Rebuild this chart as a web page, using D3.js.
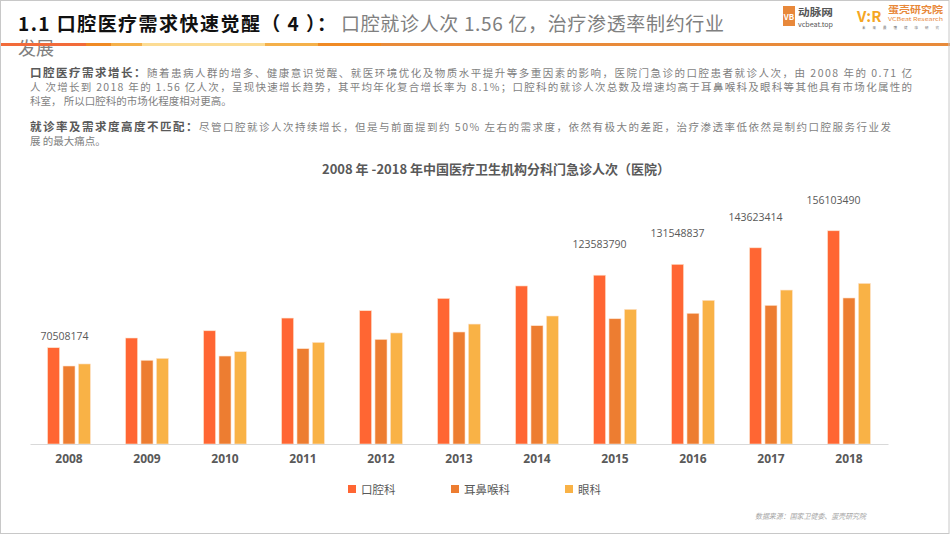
<!DOCTYPE html>
<html>
<head>
<meta charset="utf-8">
<script src="https://cdn.jsdelivr.net/npm/d3@7"></script>
<style>
  body { margin: 0; background: #fff; }
  svg { display: block; font-family: "Noto Sans CJK SC", "Noto Sans", sans-serif; }
</style>
</head>
<body>
<svg id="slide" width="950" height="535"></svg>
<script>
// data (values in visits)
const years = ['2008','2009','2010','2011','2012','2013','2014','2015','2016','2017','2018'];
const seriesNames = ['口腔科', '耳鼻喉科', '眼科'];
const oralVisits = [70508174, 77600000, 82900000, 92200000, 97600000, 106600000, 115700000, 123583790, 131548837, 143623414, 156103490];
const entVisits  = [57100000, 61300000, 64400000, 69800000, 76600000, 82000000, 86600000, 91700000, 95700000, 101500000, 106900000];
const eyeVisits  = [58600000, 62700000, 67600000, 74400000, 81300000, 87800000, 93700000, 98600000, 105200000, 112700000, 117600000];
const labelledYears = ['2008', '2015', '2016', '2017', '2018'];

const colors = ['#ff6633', '#ed7d31', '#f9b246'];

const svg = d3.select('#slide');

// ---- header ----
const stripe = [
    [0, 86, '#f26b3a'], [86, 111, '#f08a24'], [111, 142, '#f5b04a'],
    [142, 265, '#fcdc94'], [265, 318, '#f4b04a'], [318, 381, '#f08a24'], [381, 950, '#e88a3a']
];

svg.append('text')
    .attr('x', 18).attr('y', 55)
    .style('font-size', '18px').style('fill', '#808080')
    .text('发展');

svg.selectAll('.stripe')
    .data(stripe)
    .enter()
    .append('rect')
    .attr('class', 'stripe')
    .attr('x', d => d[0]).attr('y', 43)
    .attr('width', d => d[1] - d[0]).attr('height', 3)
    .style('fill', d => d[2]);

// title in two pieces so the widths follow the reference
svg.append('text')
    .attr('x', 18).attr('y', 31)
    .attr('textLength', 318).attr('lengthAdjust', 'spacing')
    .style('font-size', '19px').style('font-weight', 'bold').style('fill', '#111')
    .text('1.1  口腔医疗需求快速觉醒（ 4 ）：');
svg.append('text')
    .attr('x', 341).attr('y', 31)
    .attr('textLength', 383).attr('lengthAdjust', 'spacing')
    .style('font-size', '19px').style('fill', '#808080')
    .text('口腔就诊人次 1.56 亿，治疗渗透率制约行业');

// logos (rough)
let logo = svg.append('g');
logo.append('rect').attr('x', 783).attr('y', 6).attr('width', 12).attr('height', 20)
    .style('fill', '#e8883a');
logo.append('text').attr('x', 789).attr('y', 20).attr('text-anchor', 'middle')
    .style('font-size', '8px').style('font-weight', 'bold').style('fill', '#fff').text('VB');
logo.append('text').attr('x', 798).attr('y', 16)
    .attr('textLength', 35).attr('lengthAdjust', 'spacingAndGlyphs')
    .style('font-size', '10px').style('font-weight', 'bold').style('fill', '#555').text('动脉网');
logo.append('text').attr('x', 798).attr('y', 26.5)
    .attr('textLength', 35).attr('lengthAdjust', 'spacingAndGlyphs')
    .style('font-size', '7px').style('fill', '#555').text('vcbeat.top');
logo.append('text').attr('x', 857).attr('y', 22)
    .style('font-size', '15px').style('font-weight', 'bold').style('fill', '#f5a623').text('V:R');
logo.append('text').attr('x', 888).attr('y', 13)
    .attr('textLength', 55).attr('lengthAdjust', 'spacingAndGlyphs')
    .style('font-size', '9.5px').style('font-weight', 'bold').style('fill', '#e8883a').text('蛋壳研究院');
logo.append('text').attr('x', 888).attr('y', 20.5)
    .attr('textLength', 55).attr('lengthAdjust', 'spacingAndGlyphs')
    .style('font-size', '5px').style('fill', '#e8883a').text('VCBeat Research');
logo.append('text').attr('x', 862).attr('y', 29)
    .style('font-size', '3.5px').style('fill', '#777').style('letter-spacing', '7px').text('未来最懂健康研究');

// ---- paragraphs ----
const paraLines = [
    {y: 77, head: '口腔医疗需求增长：', body: '随着患病人群的增多、健康意识觉醒、就医环境优化及物质水平提升等多重因素的影响，医院门急诊的口腔患者就诊人次，由 2008 年的 0.71 亿', len: 882},
    {y: 91, head: '', body: '人  次增长到 2018 年的 1.56 亿人次，呈现快速增长趋势，其平均年化复合增长率为 8.1%；口腔科的就诊人次总数及增速均高于耳鼻喉科及眼科等其他具有市场化属性的', len: 882},
    {y: 105, head: '', body: '科室，  所以口腔科的市场化程度相对更高。', len: null},
    {y: 131, head: '就诊率及需求度高度不匹配：', body: '尽管口腔就诊人次持续增长，但是与前面提到约 50% 左右的需求度，依然有极大的差距，治疗渗透率低依然是制约口腔服务行业发', len: 861},
    {y: 145, head: '', body: '展  的最大痛点。', len: null}
];

paraLines.forEach((d) => {
    let t = svg.append('text')
        .attr('x', 30).attr('y', d.y)
        .style('font-size', '10.5px');
    if(d.len){
        t.attr('textLength', d.len).attr('lengthAdjust', 'spacing');
    }
    if(d.head){
        t.append('tspan').style('font-weight', 'bold').style('fill', '#595959').style('font-size', '11.5px').text(d.head);
    }
    t.append('tspan').style('fill', '#7f7f7f').text(d.body);
});

// ---- chart ----
const x0 = d3.scaleBand()
    .domain(years)
    .range([30, 888])
    .paddingInner(0.45)
    .paddingOuter(0.225);

const x1 = d3.scaleBand()
    .domain(seriesNames)
    .range([0, x0.bandwidth()])
    .paddingInner(0.22);

const y = d3.scaleLinear()
    .domain([0, 160000000])
    .range([444, 444 - 160 * 1.366]);

const rows = years.map((yr, i) => ({
    year: yr,
    values: [oralVisits[i], entVisits[i], eyeVisits[i]]
}));

svg.append('text')
    .attr('x', 496).attr('y', 174)
    .attr('text-anchor', 'middle')
    .style('font-size', '13px').style('font-weight', 'bold').style('fill', '#595959')
    .text('2008 年 -2018 年中国医疗卫生机构分科门急诊人次（医院）');

let groups = svg.selectAll('.year-group')
    .data(rows)
    .enter()
    .append('g')
    .attr('class', 'year-group')
    .attr('transform', d => 'translate(' + x0(d.year) + ',0)');

groups.selectAll('rect')
    .data(d => d.values.map((v, i) => ({name: seriesNames[i], value: v, idx: i})))
    .enter()
    .append('rect')
    .attr('x', d => x1(d.name))
    .attr('y', d => y(d.value))
    .attr('width', x1.bandwidth())
    .attr('height', d => y(0) - y(d.value))
    .style('fill', d => colors[d.idx])
    .style('stroke', '#fde4cf')
    .style('stroke-width', 0.6);

// axis
const xAxis = d3.axisBottom(x0).tickSize(0).tickPadding(10);
let axisG = svg.append('g')
    .attr('transform', 'translate(0,' + y(0) + ')')
    .call(xAxis);
axisG.select('.domain').attr('stroke', '#d9d9d9');
axisG.selectAll('text')
    .style('font-family', '"Open Sans", "Noto Sans", sans-serif')
    .style('font-size', '12px').style('font-weight', 'bold').style('fill', '#595959');

// data labels on the oral series
const labelNudge = {'2008': {dx: 11, dy: -8}};
svg.selectAll('.value-label')
    .data(rows.filter(d => labelledYears.includes(d.year)))
    .enter()
    .append('text')
    .attr('class', 'value-label')
    .attr('text-anchor', 'middle')
    .attr('x', d => x0(d.year) + x1(seriesNames[0]) + x1.bandwidth() / 2 + (labelNudge[d.year] ? labelNudge[d.year].dx : 0))
    .attr('y', d => y(d.values[0]) + (labelNudge[d.year] ? labelNudge[d.year].dy : -27))
    .style('font-family', '"Open Sans", "Noto Sans", sans-serif')
    .style('font-size', '10.5px').style('fill', '#595959')
    .text(d => d.values[0]);

// legend
const legendX = [348, 451, 565];
let legend = svg.selectAll('.legend')
    .data(seriesNames)
    .enter()
    .append('g')
    .attr('class', 'legend')
    .attr('transform', (d, i) => 'translate(' + legendX[i] + ',485)');
legend.append('rect')
    .attr('width', 8).attr('height', 8)
    .style('fill', (d, i) => colors[i]);
legend.append('text')
    .attr('x', 13).attr('y', 8.5)
    .style('font-size', '11.5px').style('fill', '#595959')
    .text(d => d);

// source + frame
svg.append('text')
    .attr('x', 755).attr('y', 519)
    .attr('textLength', 111).attr('lengthAdjust', 'spacingAndGlyphs')
    .style('font-size', '7.5px').style('fill', '#a6a6a6').style('font-style', 'italic')
    .text('数据来源：国家卫健委、蛋壳研究院');

svg.append('rect')
    .attr('x', 0.5).attr('y', 0.5).attr('width', 948.5).attr('height', 533)
    .style('fill', 'none').style('stroke', '#c8c8c8').style('stroke-width', 1);
</script>
</body>
</html>
